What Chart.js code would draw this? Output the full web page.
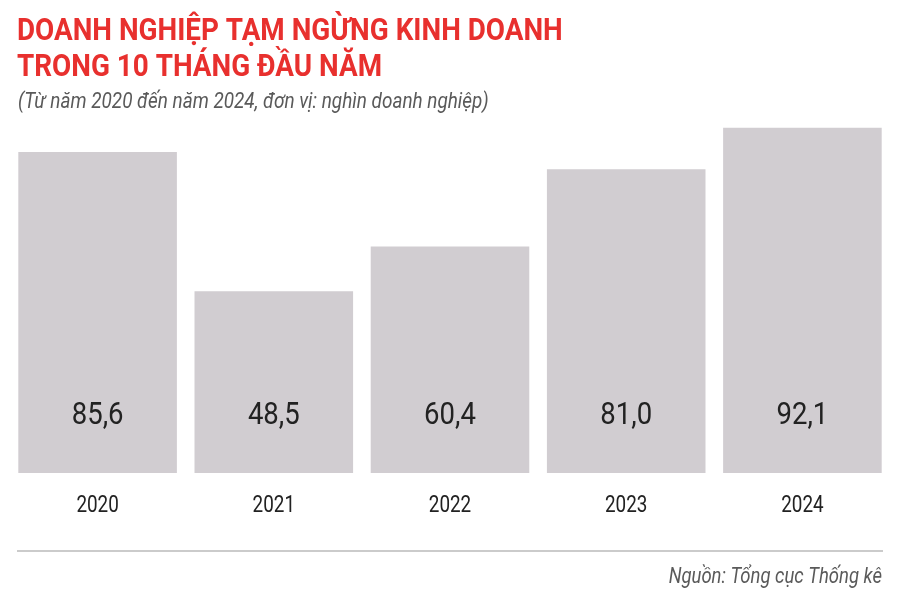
<!DOCTYPE html>
<html>
<head>
<meta charset="utf-8">
<script src="https://cdn.jsdelivr.net/npm/chart.js@4"></script>
<style>
  html, body { margin: 0; padding: 0; background: #fff; }
  #wrap { width: 900px; height: 592px; position: relative; }
</style>
</head>
<body>
<div id="wrap"><canvas id="tamNgungChart"></canvas></div>
<script>
var years = ["2020", "2021", "2022", "2023", "2024"];
var values = [85.6, 48.5, 60.4, 81.0, 92.1];

var titleLines = ["DOANH NGHIỆP TẠM NGỪNG KINH DOANH", "TRONG 10 THÁNG ĐẦU NĂM"];
var subtitle = "(Từ năm 2020 đến năm 2024, đơn vị: nghìn doanh nghiệp)";
var source = "Nguồn: Tổng cục Thống kê";

var barColor = "#d1cdd1";
var titleRed = "#e8302e";

// draw text squeezed horizontally, like a condensed face
function squeezed(ctx, text, x, y, font, color, sx, align) {
  ctx.save();
  ctx.font = font;
  ctx.fillStyle = color;
  ctx.textBaseline = "alphabetic";
  var w = ctx.measureText(text).width * sx;
  var left = x;
  if (align === "center") left = x - w / 2;
  if (align === "right") left = x - w;
  ctx.translate(left, y);
  ctx.scale(sx, 1);
  ctx.textAlign = "left";
  ctx.fillText(text, 0, 0);
  ctx.restore();
}

var decorPlugin = {
  id: "decor",
  afterDraw: function (chart) {
    var ctx = chart.ctx;
    var fam = "Roboto, 'Noto Sans', sans-serif";

    squeezed(ctx, titleLines[0], 17, 40, "bold 32px " + fam, titleRed, 0.87, "left");
    squeezed(ctx, titleLines[1], 17, 76, "bold 32px " + fam, titleRed, 0.87, "left");
    squeezed(ctx, subtitle, 18, 108, "italic 22px " + fam, "#5a5a5a", 0.86, "left");

    var meta = chart.getDatasetMeta(0);
    meta.data.forEach(function (bar, i) {
      var txt = values[i].toFixed(1).replace(".", ",");
      squeezed(ctx, txt, bar.x, 424, "32px " + fam, "#222222", 0.86, "center");
      squeezed(ctx, years[i], bar.x, 512, "23px " + fam, "#222222", 0.82, "center");
    });

    ctx.save();
    ctx.strokeStyle = "#cbcbcb";
    ctx.lineWidth = 2;
    ctx.beginPath();
    ctx.moveTo(17, 551);
    ctx.lineTo(883, 551);
    ctx.stroke();
    ctx.restore();

    squeezed(ctx, source, 882, 583, "italic 21.5px " + fam, "#5a5a5a", 0.86, "right");
  }
};

var chartDiv = document.getElementById("tamNgungChart");

new Chart(chartDiv, {
  type: "bar",
  data: {
    labels: years,
    datasets: [
      {
        label: "Doanh nghiệp tạm ngừng",
        data: values,
        backgroundColor: barColor,
        borderWidth: 0,
        barPercentage: 0.9,
        categoryPercentage: 1.0,
      },
    ],
  },
  options: {
    responsive: true,
    maintainAspectRatio: false,
    animation: false,
    layout: {
      padding: { top: 98, bottom: 119, left: 9.5, right: 9.5 },
    },
    plugins: {
      legend: { display: false },
      tooltip: { enabled: false },
    },
    scales: {
      x: { display: false },
      y: { display: false, min: 0, max: 100 },
    },
  },
  plugins: [decorPlugin],
});
</script>
</body>
</html>
